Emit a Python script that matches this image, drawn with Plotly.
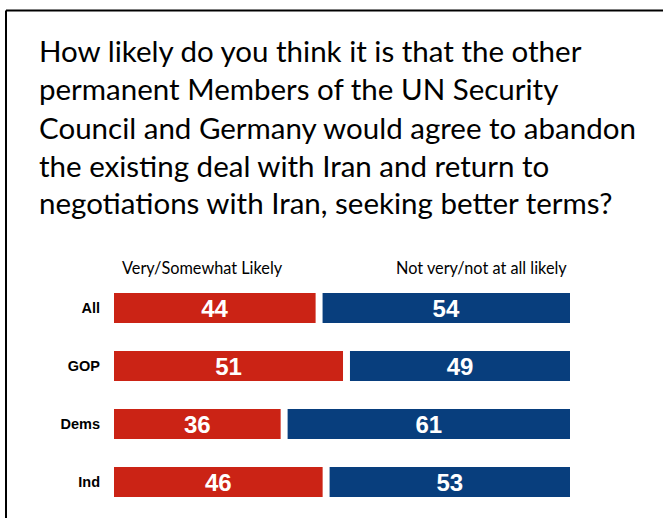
import plotly.graph_objects as go

categories = ["All", "GOP", "Dems", "Ind"]
likely = [44, 51, 36, 46]
not_likely = [54, 49, 61, 53]
header_labels = ["Very/Somewhat Likely", "Not very/not at all likely"]
title_lines = [
    "How likely do you think it is that the other",
    "permanent Members of the UN Security",
    "Council and Germany would agree to abandon",
    "the existing deal with Iran and return to",
    "negotiations with Iran, seeking better terms?",
]

RED = "#CB2315"
BLUE = "#083E7D"
GAP = 1.55  # visual gap between the two segments (in % units)

W, H = 663, 518
ML, MR, MT, MB = 114, 663 - 570, 279, 7
PW, PH = W - ML - MR, H - MT - MB

def px_x(px):
    return (px - ML) / PW

def px_y(py):
    return (H - MB - py) / PH

# normalise each row to 100 so that both segments fill the row
totals = [a + b for a, b in zip(likely, not_likely)]
red_share = [a / t * 100 for a, t in zip(likely, totals)]
blue_share = [b / t * 100 for b, t in zip(not_likely, totals)]
blue_base = [r + GAP for r in red_share]

BOLD = "Liberation Sans, Arial, sans-serif"
value_font = dict(family=BOLD, size=24, color="white", weight="bold")

fig = go.Figure()
fig.add_trace(go.Bar(
    y=categories, x=red_share, base=[0] * len(categories), orientation="h",
    marker=dict(color=RED, line=dict(width=0)), width=0.52,
    text=[str(v) for v in likely], textposition="inside", insidetextanchor="middle",
    constraintext="none", textangle=0, textfont=value_font,
    hoverinfo="skip", showlegend=False,
))
fig.add_trace(go.Bar(
    y=categories, x=blue_share, base=blue_base, orientation="h",
    marker=dict(color=BLUE, line=dict(width=0)), width=0.52,
    text=[str(v) for v in not_likely], textposition="inside", insidetextanchor="middle",
    constraintext="none", textangle=0, textfont=value_font,
    hoverinfo="skip", showlegend=False,
))

annotations = []
title_y = [50, 88.5, 127, 165, 203]
for line, yy in zip(title_lines, title_y):
    annotations.append(dict(
        text=line, xref="paper", yref="paper", x=px_x(37), y=px_y(yy),
        xanchor="left", yanchor="middle", showarrow=False,
        font=dict(family="Lato, Carlito, Calibri, sans-serif", size=29.5, color="black"),
    ))
for lab, cx in zip(header_labels, [202, 481.5]):
    annotations.append(dict(
        text=lab, xref="paper", yref="paper", x=px_x(cx), y=px_y(267),
        xanchor="center", yanchor="middle", showarrow=False,
        font=dict(family="Lato, Carlito, Calibri, sans-serif", size=16.3, color="black"),
    ))

shapes = [
    dict(type="line", xref="paper", yref="paper", x0=px_x(6), x1=px_x(680), y0=px_y(10.5), y1=px_y(10.5),
         line=dict(color="black", width=2)),
    dict(type="line", xref="paper", yref="paper", x0=px_x(6), x1=px_x(6), y0=px_y(10.5), y1=px_y(540),
         line=dict(color="black", width=2)),
]

fig.update_layout(
    width=W, height=H, margin=dict(l=ML, r=MR, t=MT, b=MB, pad=0),
    paper_bgcolor="white", plot_bgcolor="white", barmode="overlay",
    xaxis=dict(range=[0, 100 + GAP], visible=False, fixedrange=True),
    yaxis=dict(range=[3.5, -0.5], showgrid=False, zeroline=False, showline=False,
               ticks="", ticklabelstandoff=13, fixedrange=True,
               tickfont=dict(family=BOLD, size=14.5, color="black", weight="bold")),
    annotations=annotations, shapes=shapes,
)

fig.write_html(
    "out.html",
    config={"displayModeBar": False},
    post_script="document.body.style.margin='0';document.body.style.overflow='hidden';",
)
